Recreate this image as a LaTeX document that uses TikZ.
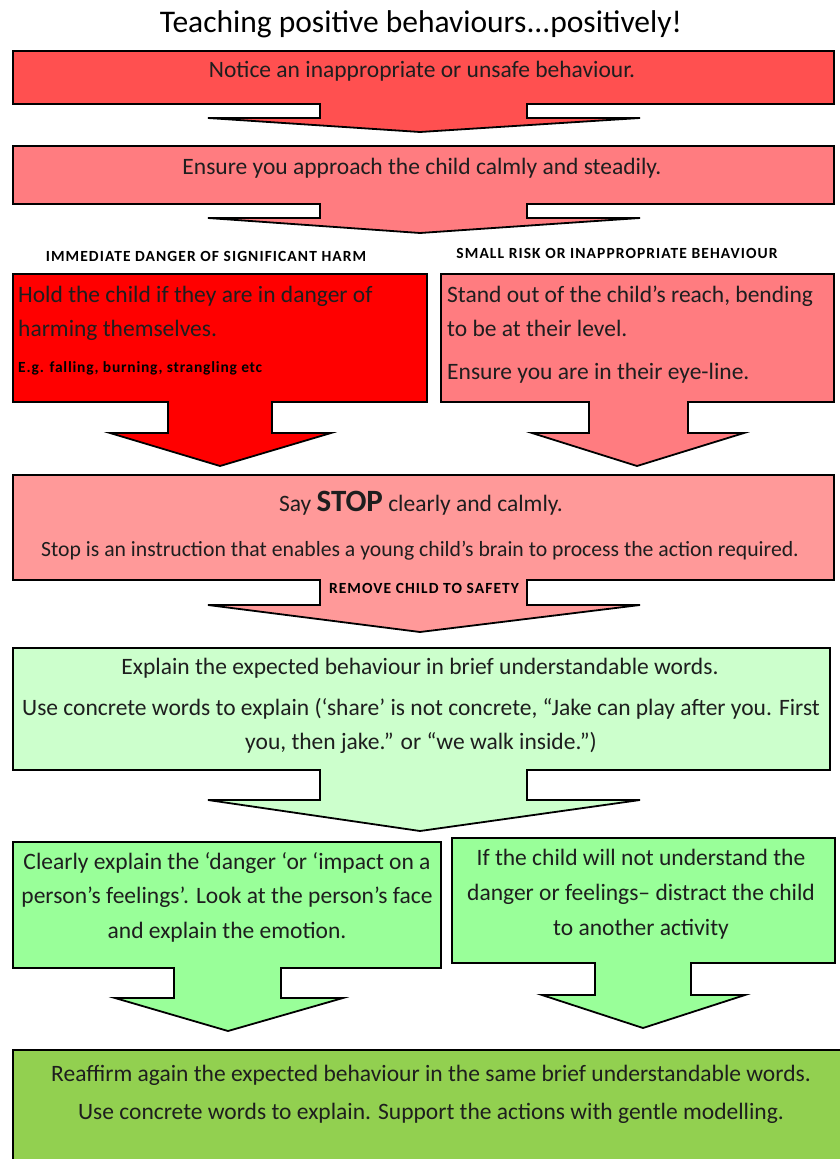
\documentclass[tikz,border=0pt]{standalone}
\usepackage{fontspec}
\setmainfont{Carlito}
\newfontfamily\spacedfont[LetterSpace=7]{Carlito}
\newfontfamily\spacedfontb[LetterSpace=5]{Carlito}
\definecolor{cA}{HTML}{FF5050}
\definecolor{cB}{HTML}{FF7C80}
\definecolor{cC}{HTML}{FF0000}
\definecolor{cD}{HTML}{FF9999}
\definecolor{cE}{HTML}{CCFFCC}
\definecolor{cF}{HTML}{99FF99}
\definecolor{cG}{HTML}{92D050}
\definecolor{ink}{HTML}{1E1E1E}
\tikzset{
  shapebox/.style={draw=black, line width=1.8pt, line join=miter},
  txt/.style={inner sep=0pt, anchor=base, text=ink, font=\fontsize{23.5}{28}\selectfont},
  txtl/.style={txt, anchor=base west},
  small/.style={inner sep=0pt, anchor=base, text=black, font=\spacedfont\fontsize{15.5}{18}\selectfont\bfseries},
  mid/.style={txt, font=\fontsize{21.7}{26}\selectfont},
}
\begin{document}
\begin{tikzpicture}[x=1pt,y=-1pt]
\useasboundingbox (0,0) rectangle (840,1159);
\clip (0,0) rectangle (840,1159);
\fill[white] (0,0) rectangle (840,1159);

\node[txt, font=\fontsize{31.5}{36}\selectfont, text=black] (title) at (421,32) {Teaching positive behaviours...positively!};

% box 1
\draw[shapebox, fill=cA] (13,51) -| (834,104) -- (527,104) -- (527,118) -- (640,118) -- (420,132) -- (208,118) -- (320,118) -- (320,104) -- (13,104) -- cycle;
\node[txt] (t1) at (422,77) {Notice an inappropriate or unsafe behaviour.};

% box 2
\draw[shapebox, fill=cB] (13,146) -| (834,204) -- (527,204) -- (527,218) -- (640,218) -- (420,233) -- (208,218) -- (320,218) -- (320,204) -- (13,204) -- cycle;
\node[txt] (t2) at (422,174) {Ensure you approach the child calmly and steadily.};

\node[small] (lab1) at (206,261) {IMMEDIATE DANGER OF SIGNIFICANT HARM};
\node[small] (lab2) at (617,258) {SMALL RISK OR INAPPROPRIATE BEHAVIOUR};

% box 3
\draw[shapebox, fill=cC] (13,274) -| (427,402) -- (272,402) -- (272,433) -- (331,433) -- (220,466) -- (110,433) -- (168,433) -- (168,402) -- (13,402) -- cycle;
\node[txtl] (t3a) at (18,302) {Hold the child if they are in danger of};
\node[txtl] (t3b) at (18,336) {harming themselves.};
\node[small, anchor=base west, font=\spacedfontb\fontsize{15.5}{18}\selectfont\bfseries] (t3c) at (18,372) {E.g. falling, burning, strangling etc};

% box 4
\draw[shapebox, fill=cB] (441,274) -| (834,402) -- (688,402) -- (688,433) -- (744,433) -- (637,466) -- (532,433) -- (589,433) -- (589,402) -- (441,402) -- cycle;
\node[txtl] (t4a) at (447,302) {Stand out of the child’s reach, bending};
\node[txtl] (t4b) at (447,336) {to be at their level.};
\node[txtl] (t4c) at (447,379) {Ensure you are in their eye-line.};

% box 5
\draw[shapebox, fill=cD] (13,475) -| (834,580) -- (527,580) -- (527,605) -- (640,605) -- (420,632) -- (208,605) -- (320,605) -- (320,580) -- (13,580) -- cycle;
\node[txt] (t5a) at (421,511) {Say {\fontsize{31}{36}\selectfont\bfseries STOP} clearly and calmly.};
\node[mid] (t5b) at (420,556) {Stop is an instruction that enables a young child’s brain to process the action required.};
\node[small] (t5c) at (424,593) {REMOVE CHILD TO SAFETY};

% box 6
\draw[shapebox, fill=cE] (13,648) -| (830,770) -- (527,770) -- (527,800) -- (640,800) -- (420,831) -- (208,800) -- (320,800) -- (320,770) -- (13,770) -- cycle;
\node[txt] (t6a) at (420,674) {Explain the expected behaviour in brief understandable words.};
\node[txt] (t6b) at (421,715) {Use concrete words to explain (‘share’ is not concrete, “Jake can play after you. First};
\node[txt] (t6c) at (421,749) {you, then jake.” or “we walk inside.”)};

% box 7
\draw[shapebox, fill=cF] (13,842) -| (441,968) -- (281,968) -- (281,998) -- (343,998) -- (228,1031) -- (115,998) -- (174,998) -- (174,968) -- (13,968) -- cycle;
\node[txt] (t7a) at (227,869) {Clearly explain the ‘danger ‘or ‘impact on a};
\node[txt] (t7b) at (227,903) {person’s feelings’. Look at the person’s face};
\node[txt] (t7c) at (227,938) {and explain the emotion.};

% box 8
\draw[shapebox, fill=cF] (452,838) -| (835,963) -- (691,963) -- (691,995) -- (745,995) -- (643,1028) -- (542,995) -- (595,995) -- (595,963) -- (452,963) -- cycle;
\node[txt] (t8a) at (641,865) {If the child will not understand the};
\node[txt] (t8b) at (641,900) {danger or feelings– distract the child};
\node[txt] (t8c) at (641,935) {to another activity};

% box 9
\draw[shapebox, fill=cG] (13,1050) rectangle (852,1180);
\node[txt] (t9a) at (431,1081) {Reaffirm again the expected behaviour in the same brief understandable words.};
\node[txt] (t9b) at (431,1119) {Use concrete words to explain. Support the actions with gentle modelling.};
\end{tikzpicture}
\end{document}
